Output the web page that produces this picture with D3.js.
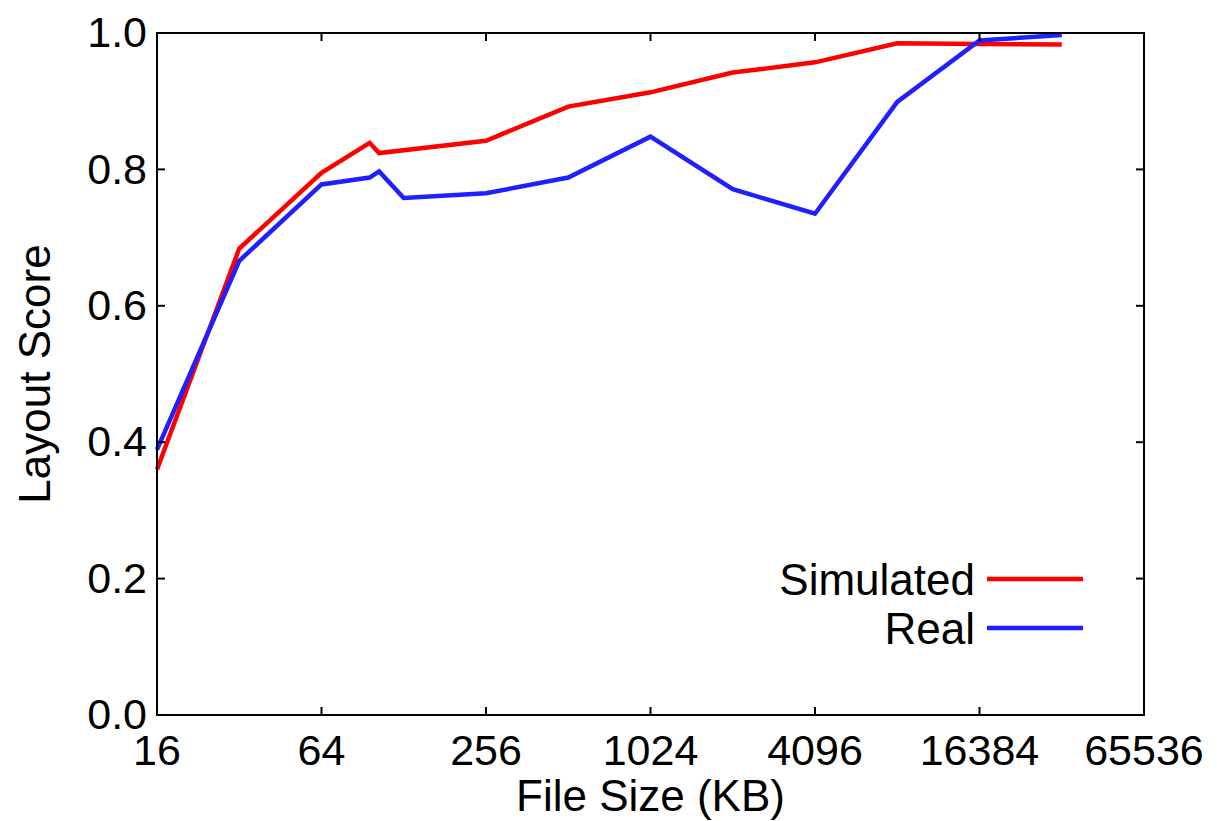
<!DOCTYPE html>
<head>
  <meta charset="utf-8">
  <script src="https://d3js.org/d3.v7.min.js"></script>
  <style>
    body { margin: 0; background: #fff; }
    text { font-family: "Liberation Sans", Arial, Helvetica, sans-serif; fill: #000; }
    .frame { fill: none; stroke: #000; stroke-width: 2; }
    .tick-mark { stroke: #000; stroke-width: 2; }
  </style>
</head>
<body>
  <script>
    // file sizes in KB (log2 axis)
    const simSizes  = [16, 32, 64, 96, 104, 256, 512, 1024, 2048, 4096, 8192, 16384, 32768];
    const simScores = [0.360, 0.684, 0.795, 0.839, 0.824, 0.842, 0.892, 0.913, 0.942, 0.957, 0.985, 0.984, 0.983];

    const realSizes  = [16, 32, 64, 96, 104, 128, 256, 512, 1024, 2048, 4096, 8192, 16384, 32768];
    const realScores = [0.389, 0.666, 0.778, 0.788, 0.797, 0.758, 0.765, 0.788, 0.848, 0.771, 0.735, 0.899, 0.989, 0.997];

    const xTicks = [16, 64, 256, 1024, 4096, 16384, 65536];
    const yTicks = [0.0, 0.2, 0.4, 0.6, 0.8, 1.0];

    const series = [
      { name: "Simulated", color: "#ff0000", sizes: simSizes, scores: simScores },
      { name: "Real", color: "#1f1fff", sizes: realSizes, scores: realScores }
    ];

    const W = 1217, H = 821;
    const margin = {top: 33, right: 73, bottom: 106, left: 157};
    const width = W - margin.left - margin.right,
          height = H - margin.top - margin.bottom;
    const fontSize = 43, tickLen = 8;

    const svg = d3.select("body").append("svg")
        .attr("width", W)
        .attr("height", H);
    const g = svg.append("g")
        .attr("transform", "translate(" + margin.left + "," + margin.top + ")");

    const x = d3.scaleLog().base(2).domain([16, 65536]).range([0, width]);
    const y = d3.scaleLinear().domain([0, 1]).range([height, 0]);

    // data lines
    const line = d3.line()
        .x(d => x(d[0]))
        .y(d => y(d[1]));

    series.forEach(s => {
      g.append("path")
          .datum(d3.zip(s.sizes, s.scores))
          .attr("fill", "none")
          .attr("stroke", s.color)
          .attr("stroke-width", 4.5)
          .attr("stroke-linejoin", "miter")
          .attr("d", line);
    });

    // frame
    g.append("rect")
        .attr("class", "frame")
        .attr("width", width)
        .attr("height", height);

    // inward ticks on all four sides
    xTicks.forEach(t => {
      g.append("line").attr("class", "tick-mark")
          .attr("x1", x(t)).attr("x2", x(t))
          .attr("y1", height).attr("y2", height - tickLen);
      g.append("line").attr("class", "tick-mark")
          .attr("x1", x(t)).attr("x2", x(t))
          .attr("y1", 0).attr("y2", tickLen);
      g.append("text")
          .attr("x", x(t))
          .attr("y", height + 50)
          .attr("text-anchor", "middle")
          .style("font-size", fontSize + "px")
          .text(t);
    });

    yTicks.forEach(t => {
      g.append("line").attr("class", "tick-mark")
          .attr("x1", 0).attr("x2", tickLen)
          .attr("y1", y(t)).attr("y2", y(t));
      g.append("line").attr("class", "tick-mark")
          .attr("x1", width).attr("x2", width - tickLen)
          .attr("y1", y(t)).attr("y2", y(t));
      g.append("text")
          .attr("x", -10)
          .attr("y", y(t))
          .attr("dy", "0.33em")
          .attr("text-anchor", "end")
          .style("font-size", fontSize + "px")
          .text(d3.format(".1f")(t));
    });

    // axis labels
    g.append("text")
        .attr("x", width / 2)
        .attr("y", height + 96)
        .attr("text-anchor", "middle")
        .style("font-size", (fontSize + 1) + "px")
        .text("File Size (KB)");

    g.append("text")
        .attr("transform", "translate(" + (-107) + "," + (height / 2) + ") rotate(-90)")
        .attr("text-anchor", "middle")
        .style("font-size", (fontSize + 1) + "px")
        .text("Layout Score");

    // legend
    const legend = g.append("g")
        .attr("transform", "translate(" + (width - 157) + "," + (height - 136) + ")");
    series.forEach((s, i) => {
      const row = legend.append("g").attr("transform", "translate(0," + (i * 49) + ")");
      row.append("line")
          .attr("x1", 0).attr("x2", 96)
          .attr("y1", 0).attr("y2", 0)
          .attr("stroke", s.color)
          .attr("stroke-width", 4.5);
      row.append("text")
          .attr("x", -12)
          .attr("y", 0)
          .attr("dy", "0.36em")
          .attr("text-anchor", "end")
          .style("font-size", (fontSize + 1) + "px")
          .text(s.name);
    });
  </script>
</body>
